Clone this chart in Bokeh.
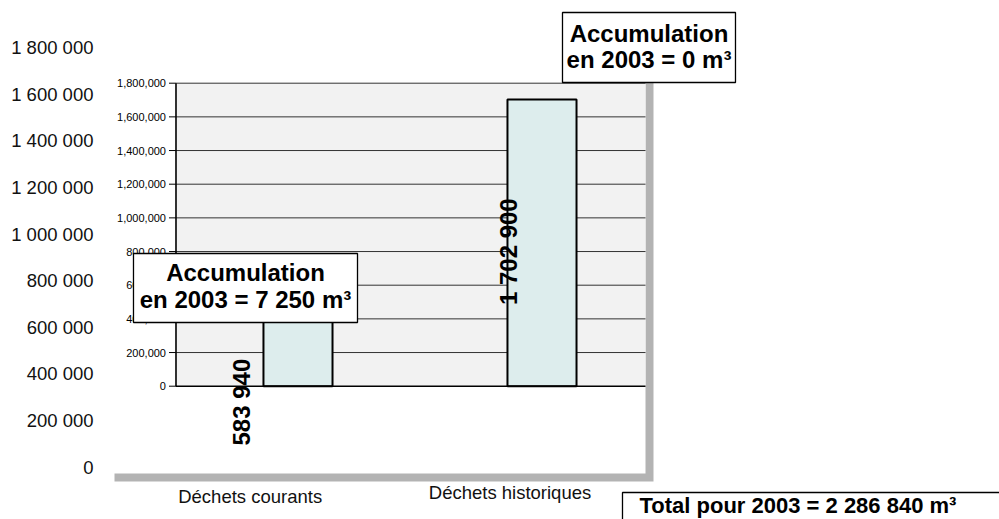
from bokeh.plotting import figure
from bokeh.models import Range1d, LinearAxis, FixedTicker
from bokeh.embed import file_html
from bokeh.resources import INLINE
from bokeh.core.properties import value
import math

# ---------------- data ----------------
categories = ["Déchets courants", "Déchets historiques"]
volumes = [583940, 1702900]
value_labels = ["583 940", "1 702 900"]

inner_ticks = [0, 200000, 400000, 600000, 800000, 1000000, 1200000, 1400000, 1600000, 1800000]
inner_tick_labels = ["0", "200,000", "400,000", "600,000", "800,000", "1,000,000",
                     "1,200,000", "1,400,000", "1,600,000", "1,800,000"]
outer_ticks = [0, 200000, 400000, 600000, 800000, 1000000, 1200000, 1400000, 1600000, 1800000]
outer_tick_labels = ["0", "200 000", "400 000", "600 000", "800 000", "1 000 000",
                     "1 200 000", "1 400 000", "1 600 000", "1 800 000"]

acc_line1 = ["Accumulation", "Accumulation"]
acc_line2 = ["en 2003 = 7 250 m³", "en 2003 = 0 m³"]
total_text = ["Total pour 2003 = 2 286 840 m³"]

# ---------------- layout constants (inner chart units) ----------------
FONT = "Liberation Sans"
idx = list(range(len(categories)))
plot_left, plot_right = -0.5, 1.4242          # inner plot area (category units)
bar_width = 0.283

p = figure(width=999, height=519,
           x_range=Range1d(-0.7848, 2.875), y_range=Range1d(-791900, 2291300),
           min_border_left=106, min_border_right=0, min_border_top=0, min_border_bottom=0,
           x_axis_location=None, y_axis_location=None,
           output_backend="svg", toolbar_location=None)
p.outline_line_color = None
p.background_fill_color = "white"
p.border_fill_color = "white"
p.xgrid.visible = False
p.ygrid.visible = False

p.extra_x_ranges = {"outer": Range1d(-0.5531, 2.8841)}
p.extra_y_ranges = {"outer": Range1d(-224300, 2001600)}

outer_axis = LinearAxis(y_range_name="outer",
                        ticker=FixedTicker(ticks=outer_ticks),
                        major_label_overrides=dict(zip(outer_ticks, outer_tick_labels)),
                        axis_line_color=None, major_tick_line_color=None,
                        minor_tick_line_color=None, major_label_standoff=7,
                        major_label_text_font=FONT, major_label_text_font_size="18.5px",
                        major_label_text_color="#111111")
p.add_layout(outer_axis, "left")

# shadow + white chart area
p.quad(left=[-0.752], right=[1.457], bottom=[-566100], top=[1828000],
       fill_color="#B3B3B3", line_color=None)
p.quad(left=[-0.7848], right=[plot_right], bottom=[-518600], top=[1875500],
       fill_color="white", line_color=None)
# plot area
p.quad(left=[plot_left], right=[plot_right], bottom=[inner_ticks[0]], top=[inner_ticks[-1]],
       fill_color="#F2F2F2", line_color=None)
# gridlines
g = inner_ticks[1:]
p.segment(x0=[plot_left] * len(g), x1=[plot_right] * len(g), y0=g, y1=g,
          line_color="#333333", line_width=1)

# bars
p.vbar(x=idx, top=volumes, bottom=0, width=bar_width,
       fill_color="#DDEDED", line_color="black", line_width=2)

# inner axes
p.segment(x0=[plot_left], x1=[plot_right], y0=[0], y1=[0], line_color="black", line_width=1.6)
p.segment(x0=[plot_left], x1=[plot_left], y0=[inner_ticks[0]], y1=[inner_ticks[-1]],
          line_color="black", line_width=1.6)
p.segment(x0=[plot_left - 0.0287] * len(inner_ticks), x1=[plot_left] * len(inner_ticks),
          y0=inner_ticks, y1=inner_ticks, line_color="black", line_width=1)
p.text(x=[plot_left] * len(inner_ticks), y=inner_ticks, text=inner_tick_labels,
       x_offset=-10, text_align="right", text_baseline="middle",
       text_font=value(FONT), text_font_size="11px", text_color="black")

# value labels (outer chart)
p.text(x=idx, y=[v / 2 for v in volumes], text=value_labels,
       x_offset=[-9, -2], y_offset=[3, -17], angle=math.pi / 2,
       text_align="center", text_baseline="middle",
       text_font=value(FONT), text_font_size="24px", text_font_style="bold",
       text_color="black", x_range_name="outer", y_range_name="outer")

# annotation boxes
p.quad(left=[-0.6742, 1.084], right=[0.2439, 1.793], bottom=[378400, 1804200], top=[788300, 2220000],
       fill_color="white", line_color="black", line_width=1.3)
p.text(x=[-0.2152, 1.4385], y=[672500, 2098200], text=acc_line1,
       text_align="center", text_baseline="middle",
       text_font=value(FONT), text_font_size="24px", text_font_style="bold", text_color="black")
p.text(x=[-0.2152, 1.4385], y=[515050, 1940800], text=acc_line2,
       text_align="center", text_baseline="middle",
       text_font=value(FONT), text_font_size="24px", text_font_style="bold", text_color="black")

# total box
p.quad(left=[1.3299], right=[3.2], bottom=[-950000], top=[-631500],
       fill_color="white", line_color="black", line_width=1.3)
p.text(x=[1.3996], y=[-706000], text=total_text,
       text_align="left", text_baseline="middle",
       text_font=value(FONT), text_font_size="22px", text_font_style="bold", text_color="black")

# category labels (outer chart)
p.text(x=idx, y=[0, 0], text=categories, y_offset=[29, 25],
       text_align="center", text_baseline="middle",
       text_font=value(FONT), text_font_size="18.5px", text_color="#111111",
       x_range_name="outer", y_range_name="outer")

open("out.html", "w").write(file_html(p, INLINE))
